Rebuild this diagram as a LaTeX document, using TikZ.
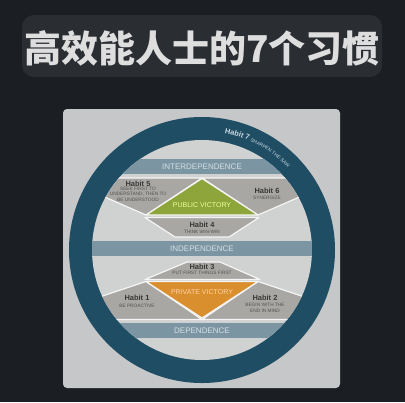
\documentclass[tikz,border=0pt]{standalone}
\usepackage{fontspec}
\setmainfont{Liberation Sans}
\newfontfamily\cjk{Noto Sans CJK SC}
\usepackage{tikz}
\usetikzlibrary{decorations.text}
\definecolor{bgdark}{HTML}{1B1E23}
\definecolor{bardark}{HTML}{2A2D32}
\definecolor{panelgray}{HTML}{C5C7C8}
\definecolor{innergray}{HTML}{D0D2D2}
\definecolor{ringblue}{HTML}{1F4D63}
\definecolor{ringtext}{HTML}{C9D9E2}
\definecolor{bandblue}{HTML}{7B95A3}
\definecolor{bandtext}{HTML}{D5E0E6}
\definecolor{habitgray}{HTML}{A9A7A4}
\definecolor{publicgreen}{HTML}{8DA53A}
\definecolor{privateorange}{HTML}{D98F2E}
\definecolor{titlegray}{HTML}{DEDEDE}

\begin{document}
\begin{tikzpicture}[x=0.25mm, y=-0.25mm,
    piece/.style={fill=habitgray, draw=white!92!gray, line width=0.3mm,
                  line join=round},
    bandlabel/.style={text=bandtext, inner sep=0pt,
                      font=\fontsize{5.7}{6}\selectfont},
    habit/.style={text=black!78, inner sep=0pt,
                  font=\bfseries\fontsize{5.3}{6}\selectfont},
    habitnote/.style={text=black!68, inner sep=0pt, align=center,
                      font=\fontsize{3.4}{3.9}\selectfont},
    victory/.style={inner sep=0pt, font=\fontsize{5}{6}\selectfont}]

    % Background and title bar
    \fill[bgdark] (0,0) rectangle (405,402);
    \useasboundingbox (0,0) rectangle (405,402);
    \fill[bardark, rounded corners=3mm] (22,15) rectangle (382,77);
    \node[font=\cjk\bfseries\fontsize{26.3}{30}\selectfont, text=titlegray]
          (title) at (202,48) {高效能人士的7个习惯};

    % Panel and ring
    \fill[panelgray, rounded corners=1mm] (63,109) rectangle (340,388);
    \fill[ringblue] (202,250) circle[radius=133];
    \fill[innergray] (202,250) circle[radius=110];
    \path[decorate, decoration={text along path, text align=left,
          text={|\bfseries\fontsize{5.3}{6}\selectfont\color{ringtext}|Habit 7
                |\fontsize{3.4}{4}\selectfont\color{ringtext}|SHARPEN THE SAW}}]
          (202,250) ++(-79:119) arc[start angle=-79, end angle=-25, radius=119];

    % Bands and pieces
    \begin{scope}
        \clip (202,250) circle[radius=110];
        \fill[bandblue] (60,159) rectangle (345,174);
        \fill[bandblue] (60,241) rectangle (345,256);
        \fill[bandblue] (60,323) rectangle (345,338);
        % upper half
        \filldraw[piece] (61,178) -- (202,178) -- (146,215) -- cycle;
        \filldraw[piece] (202,178) -- (343,178) -- (258,215) -- cycle;
        \filldraw[piece] (145,217.5) -- (259,217.5) -- (229,237) -- (175,237) -- cycle;
        \filldraw[piece, fill=publicgreen] (202,178.5) -- (258,215) -- (146,215) -- cycle;
        % lower half
        \filldraw[piece] (187,262) -- (220,262) -- (260,279.5) -- (145,279.5) -- cycle;
        \filldraw[piece] (146,281.5) -- (202,319.5) -- (32,319.5) -- cycle;
        \filldraw[piece] (258,281.5) -- (372,319.5) -- (202,319.5) -- cycle;
        \filldraw[piece, fill=privateorange] (146,281.5) -- (258,281.5) -- (202,318) -- cycle;
    \end{scope}

    % Band labels
    \node[bandlabel] (inter) at (202,167) {INTERDEPENDENCE};
    \node[bandlabel] (indep) at (202,249) {INDEPENDENCE};
    \node[bandlabel] (dep) at (202,330.5) {DEPENDENCE};

    % Victories
    \node[victory, text=green!20!yellow!40!white] (pub) at (202,205) {PUBLIC VICTORY};
    \node[victory, text=orange!35!white] (priv) at (202,292.5) {PRIVATE VICTORY};

    % Habits
    \node[habit] (h5) at (138,183.5) {Habit 5};
    \node[habitnote] (n5) at (138,194) {SEEK FIRST TO\\UNDERSTAND, THEN TO\\BE UNDERSTOOD};
    \node[habit] (h6) at (267,191) {Habit 6};
    \node[habitnote] (n6) at (267,198) {SYNERGIZE};
    \node[habit] (h4) at (202,224.5) {Habit 4};
    \node[habitnote] (n4) at (202,231.5) {THINK WIN-WIN};
    \node[habit] (h3) at (202,266.5) {Habit 3};
    \node[habitnote] (n3) at (202,273) {PUT FIRST THINGS FIRST};
    \node[habit] (h1) at (137,298) {Habit 1};
    \node[habitnote] (n1) at (137,305.5) {BE PROACTIVE};
    \node[habit] (h2) at (265,298) {Habit 2};
    \node[habitnote] (n2) at (265,308) {BEGIN WITH THE\\END IN MIND};
\end{tikzpicture}
\end{document}
